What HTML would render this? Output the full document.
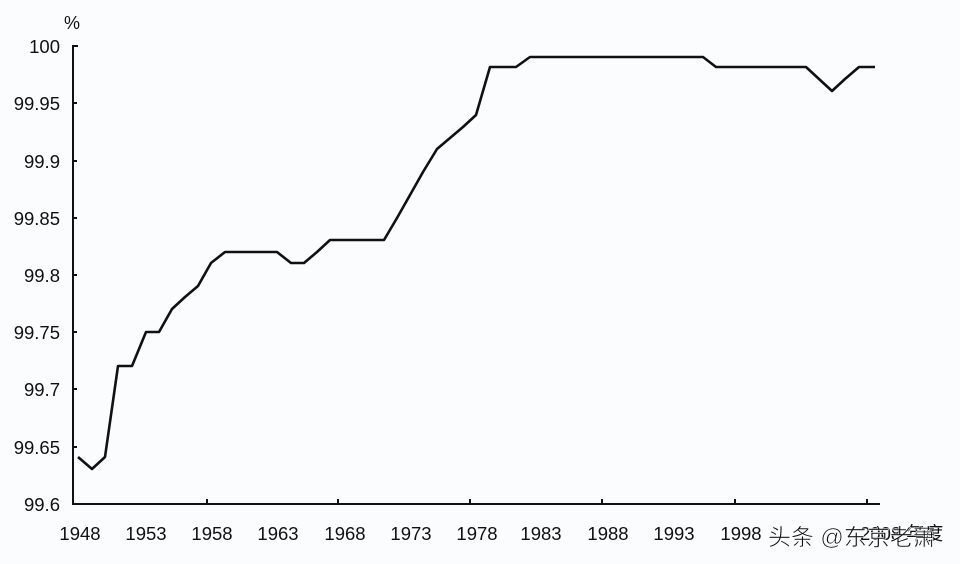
<!DOCTYPE html>
<html><head><meta charset="utf-8"><style>
html,body{margin:0;padding:0;background:#fbfcfe;}
svg{display:block}
text{font-family:"Liberation Sans","Noto Sans CJK SC",sans-serif;fill:#111;}
</style></head><body>
<svg width="960" height="564" viewBox="0 0 960 564">
<rect width="960" height="564" fill="#fbfcfe"/>
<g stroke="#111" stroke-width="2" fill="none">
<line x1="73" y1="45" x2="73" y2="505"/>
<line x1="72" y1="504" x2="880" y2="504"/>
<line x1="73" y1="46" x2="78" y2="46"/>
<line x1="73" y1="103" x2="77" y2="103"/>
<line x1="73" y1="161" x2="77" y2="161"/>
<line x1="73" y1="218" x2="77" y2="218"/>
<line x1="73" y1="275" x2="77" y2="275"/>
<line x1="73" y1="332" x2="77" y2="332"/>
<line x1="73" y1="389" x2="77" y2="389"/>
<line x1="73" y1="447" x2="77" y2="447"/>
<line x1="207" y1="504" x2="207" y2="499"/>
<line x1="338" y1="504" x2="338" y2="499"/>
<line x1="470" y1="504" x2="470" y2="499"/>
<line x1="602" y1="504" x2="602" y2="499"/>
<line x1="735" y1="504" x2="735" y2="499"/>
<line x1="867" y1="504" x2="867" y2="499"/>
</g>
<polyline fill="none" stroke="#111" stroke-width="2.6" stroke-linejoin="round" points="
78,457 92,469 105,457 118,366 132,366 146,332 159,332 172,309 185,297 198,286 211,263 225,252 277,252 291,263 304,263 317,252 330,240 384,240 397,218 410,195 423,172 437,149 450,138 463,127 476,115 490,67 516,67 530,57 703,57 716,67 806,67 819,79 832,91 845,79 859,67 875,67"/>
<g font-size="18.5" text-anchor="end">
<text x="60" y="53">100</text>
<text x="60" y="110">99.95</text>
<text x="60" y="168">99.9</text>
<text x="60" y="225">99.85</text>
<text x="60" y="282">99.8</text>
<text x="60" y="339">99.75</text>
<text x="60" y="396">99.7</text>
<text x="60" y="454">99.65</text>
<text x="60" y="511">99.6</text>
</g>
<text x="64" y="29" font-size="18">%</text>
<g font-size="18.5" text-anchor="middle">
<text x="80" y="540">1948</text>
<text x="146" y="540">1953</text>
<text x="212" y="540">1958</text>
<text x="278" y="540">1963</text>
<text x="345" y="540">1968</text>
<text x="411" y="540">1973</text>
<text x="477" y="540">1978</text>
<text x="541" y="540">1983</text>
<text x="608" y="540">1988</text>
<text x="674" y="540">1993</text>
<text x="741" y="540">1998</text>
</g>
<text x="860" y="540" font-size="18.5">2008 年度</text>
<text x="768" y="545" font-size="23" fill="#222" stroke="#fbfcfe" stroke-width="0.6">头条 @东京老萧</text>
</svg>
</body></html>
